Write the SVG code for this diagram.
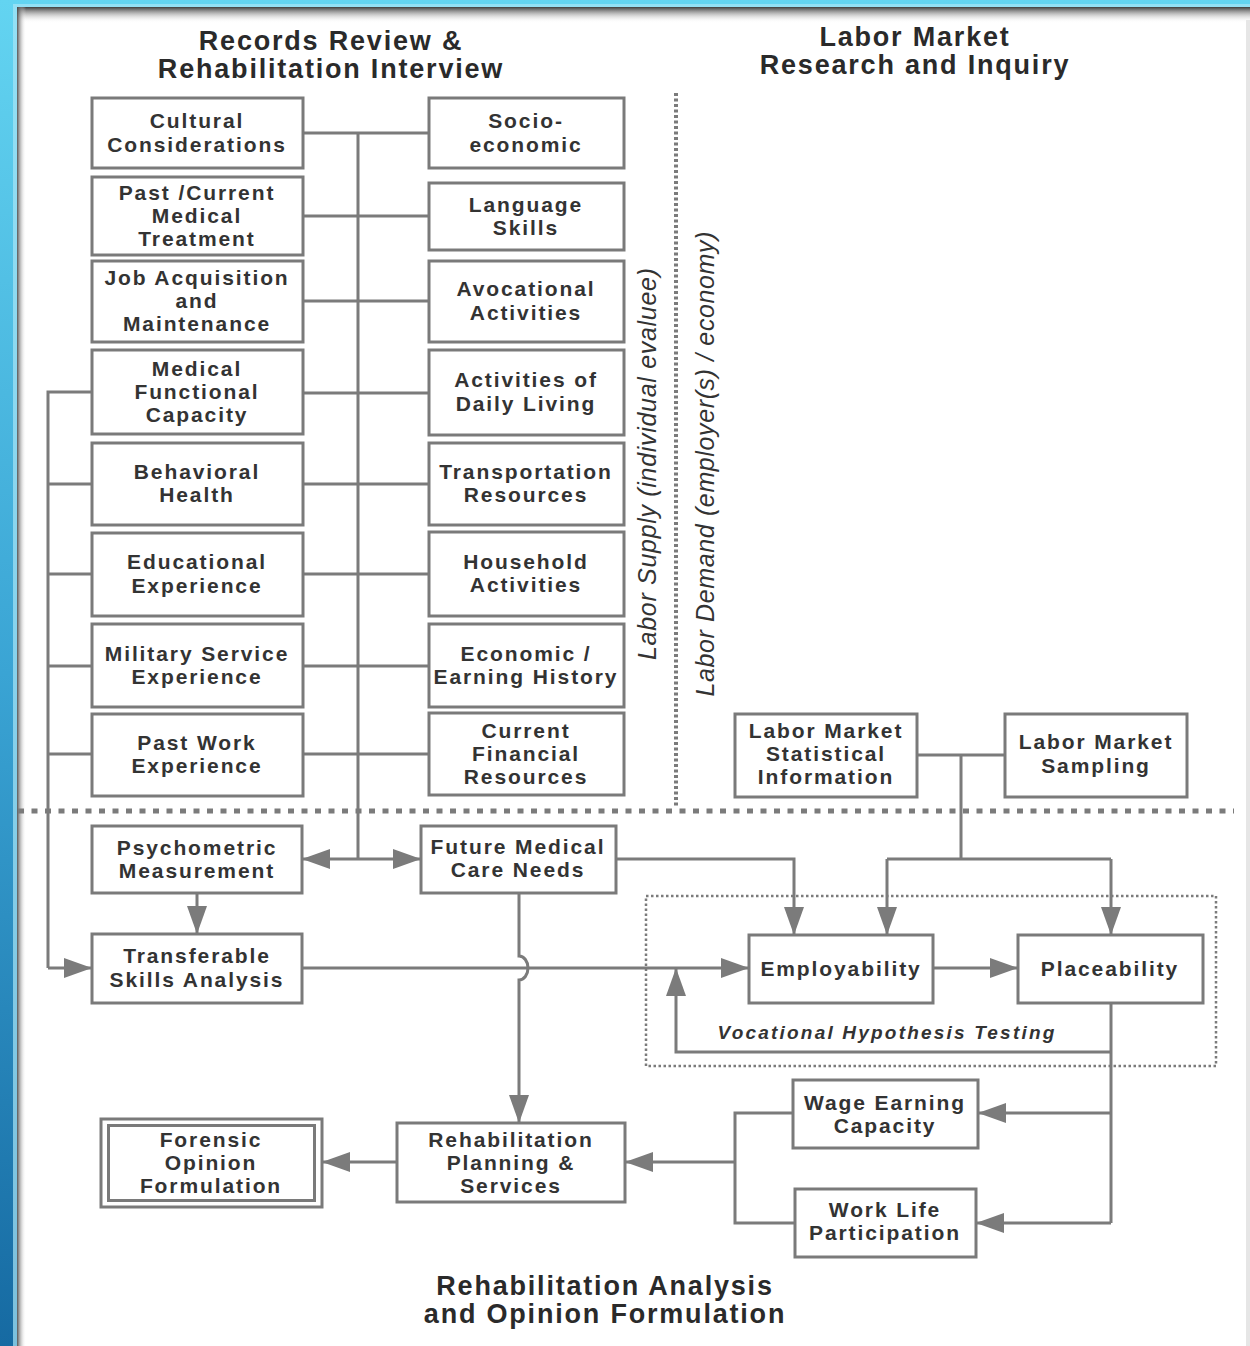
<svg xmlns="http://www.w3.org/2000/svg" width="1250" height="1346" viewBox="0 0 1250 1346">
<defs>
<linearGradient id="bg" x1="0" y1="0" x2="0" y2="1">
<stop offset="0" stop-color="#63d4f1"/>
<stop offset="0.5" stop-color="#3aa4d4"/>
<stop offset="1" stop-color="#166aa2"/>
</linearGradient>
<linearGradient id="shT" x1="0" y1="0" x2="0" y2="1">
<stop offset="0" stop-color="#333" stop-opacity="0.95"/>
<stop offset="1" stop-color="#ffffff" stop-opacity="0"/>
</linearGradient>
<linearGradient id="shL" x1="0" y1="0" x2="1" y2="0">
<stop offset="0" stop-color="#444" stop-opacity="0.9"/>
<stop offset="1" stop-color="#ffffff" stop-opacity="0"/>
</linearGradient>
<marker id="ah" markerUnits="userSpaceOnUse" markerWidth="28" markerHeight="20" refX="28" refY="10" orient="auto">
<path d="M0,0 L28,10 L0,20 Z" fill="#7b7b7b"/>
</marker>
<style>
.box{fill:#fff;stroke:#7a7a7a;stroke-width:3}
.t{font-family:"Liberation Sans",Arial,sans-serif;font-weight:bold;font-size:21px;letter-spacing:1.9px;fill:#333;text-anchor:middle}
.ti{font-family:"Liberation Sans",Arial,sans-serif;font-weight:bold;font-size:27px;letter-spacing:1.8px;fill:#2a2a2a;text-anchor:middle}
.vt{font-family:"Liberation Sans",Arial,sans-serif;font-style:italic;font-size:25px;fill:#333;text-anchor:middle}
.vh{font-family:"Liberation Sans",Arial,sans-serif;font-style:italic;font-weight:bold;font-size:19px;letter-spacing:2.2px;fill:#333;text-anchor:middle}
.ln{fill:none;stroke:#7b7b7b;stroke-width:3}
.ar{marker-end:url(#ah)}
.dot{fill:none;stroke:#7b7b7b}
</style>
</defs>

<!-- frame -->
<rect x="0" y="0" width="1250" height="1346" fill="url(#bg)"/>
<rect x="13" y="4" width="1237" height="1342" fill="#a8e6f7" opacity="0.7"/>
<rect x="17" y="7" width="1233" height="1339" fill="#ffffff"/>
<rect x="17" y="7" width="1233" height="16" fill="url(#shT)"/>
<rect x="17" y="7" width="9" height="1339" fill="url(#shL)"/>
<rect x="1246" y="20" width="4" height="1326" fill="#e6e6e6"/>

<!-- section titles -->
<g id="titles">
<text class="ti" x="331" y="50">Records Review &amp;</text>
<text class="ti" x="331" y="78">Rehabilitation Interview</text>
<text class="ti" x="915" y="46">Labor Market</text>
<text class="ti" x="915" y="74">Research and Inquiry</text>
<text class="ti" x="605" y="1295">Rehabilitation Analysis</text>
<text class="ti" x="605" y="1323">and Opinion Formulation</text>
<text class="vt" transform="translate(656,464) rotate(-90)" textLength="392" lengthAdjust="spacing">Labor Supply (individual evaluee)</text>
<text class="vt" transform="translate(714,464) rotate(-90)" textLength="465" lengthAdjust="spacing">Labor Demand (employer(s) / economy)</text>
</g>

<!-- dividers -->
<g id="dividers">
<path class="dot" d="M18,811 H1234" stroke-width="5" stroke-dasharray="6 7.5"/>
<path class="dot" d="M676,93 V806" stroke-width="4" stroke-dasharray="3 2.5"/>
<rect x="646" y="896" width="570" height="170" class="dot" stroke-width="2.5" stroke-dasharray="2.5 2.5" stroke="#8a8a8a"/>
</g>

<!-- connectors -->
<g id="connectors">
<path class="ln" d="M303,133 H429 M303,216 H429 M303,301 H429 M303,393 H429 M303,484 H429 M303,574 H429 M303,666 H429 M303,754 H429"/>
<path class="ln" d="M358,133 V859"/>
<path class="ln ar" d="M358,859 H302"/>
<path class="ln ar" d="M358,859 H421"/>
<path class="ln" d="M92,392 H48 V968 M48,484 H92 M48,574 H92 M48,666 H92 M48,754 H92"/>
<path class="ln ar" d="M48,968 H92"/>
<path class="ln ar" d="M197,893 V934"/>
<path class="ln ar" d="M302,968 H749"/>
<path class="ln ar" d="M519,893 V956 A9 12 0 0 1 519,980 V1123"/>
<path class="ln ar" d="M616,859 H794 V935"/>
<path class="ln" d="M917,755 H1005 M961,755 V859 H887 M961,859 H1111"/>
<path class="ln ar" d="M887,859 V935"/>
<path class="ln ar" d="M1111,859 V935"/>
<path class="ln ar" d="M933,968 H1018"/>
<path class="ln" d="M1111,1003 V1223"/>
<path class="ln ar" d="M1111,1052 H676 V968"/>
<path class="ln ar" d="M1111,1113 H978"/>
<path class="ln ar" d="M1111,1223 H976"/>
<path class="ln" d="M793,1113 H735 V1223 H795"/>
<path class="ln ar" d="M735,1162 H625"/>
<path class="ln ar" d="M397,1162 H322"/>
</g>

<!-- left column -->
<g id="cultural"><rect class="box" x="92" y="98" width="211" height="70"/><text class="t" x="197" y="128">Cultural</text><text class="t" x="197" y="152">Considerations</text></g>
<g id="medical-treatment"><rect class="box" x="92" y="177" width="211" height="78"/><text class="t" x="197" y="200">Past /Current</text><text class="t" x="197" y="223">Medical</text><text class="t" x="197" y="246">Treatment</text></g>
<g id="job-acquisition"><rect class="box" x="92" y="261" width="211" height="81"/><text class="t" x="197" y="285">Job Acquisition</text><text class="t" x="197" y="308">and</text><text class="t" x="197" y="331">Maintenance</text></g>
<g id="functional-capacity"><rect class="box" x="92" y="350" width="211" height="84"/><text class="t" x="197" y="376">Medical</text><text class="t" x="197" y="399">Functional</text><text class="t" x="197" y="422">Capacity</text></g>
<g id="behavioral"><rect class="box" x="92" y="443" width="211" height="82"/><text class="t" x="197" y="479">Behavioral</text><text class="t" x="197" y="502">Health</text></g>
<g id="educational"><rect class="box" x="92" y="533" width="211" height="83"/><text class="t" x="197" y="569">Educational</text><text class="t" x="197" y="593">Experience</text></g>
<g id="military"><rect class="box" x="92" y="624" width="211" height="83"/><text class="t" x="197" y="661">Military Service</text><text class="t" x="197" y="684">Experience</text></g>
<g id="past-work"><rect class="box" x="92" y="714" width="211" height="82"/><text class="t" x="197" y="750">Past Work</text><text class="t" x="197" y="773">Experience</text></g>

<!-- right column -->
<g id="socio"><rect class="box" x="429" y="98" width="195" height="70"/><text class="t" x="526" y="128">Socio-</text><text class="t" x="526" y="152">economic</text></g>
<g id="language"><rect class="box" x="429" y="183" width="195" height="67"/><text class="t" x="526" y="212">Language</text><text class="t" x="526" y="235">Skills</text></g>
<g id="avocational"><rect class="box" x="429" y="261" width="195" height="81"/><text class="t" x="526" y="296">Avocational</text><text class="t" x="526" y="320">Activities</text></g>
<g id="adl"><rect class="box" x="429" y="350" width="195" height="85"/><text class="t" x="526" y="387">Activities of</text><text class="t" x="526" y="411">Daily Living</text></g>
<g id="transportation"><rect class="box" x="429" y="443" width="195" height="82"/><text class="t" x="526" y="479">Transportation</text><text class="t" x="526" y="502">Resources</text></g>
<g id="household"><rect class="box" x="429" y="532" width="195" height="84"/><text class="t" x="526" y="569">Household</text><text class="t" x="526" y="592">Activities</text></g>
<g id="economic"><rect class="box" x="429" y="624" width="195" height="83"/><text class="t" x="526" y="661">Economic /</text><text class="t" x="526" y="684">Earning History</text></g>
<g id="financial"><rect class="box" x="429" y="713" width="195" height="82"/><text class="t" x="526" y="738">Current</text><text class="t" x="526" y="761">Financial</text><text class="t" x="526" y="784">Resources</text></g>

<!-- labor market -->
<g id="lm-statistical"><rect class="box" x="735" y="714" width="182" height="83"/><text class="t" x="826" y="738">Labor Market</text><text class="t" x="826" y="761">Statistical</text><text class="t" x="826" y="784">Information</text></g>
<g id="lm-sampling"><rect class="box" x="1005" y="714" width="182" height="83"/><text class="t" x="1096" y="749">Labor Market</text><text class="t" x="1096" y="773">Sampling</text></g>

<!-- lower section -->
<g id="psychometric"><rect class="box" x="92" y="826" width="210" height="67"/><text class="t" x="197" y="855">Psychometric</text><text class="t" x="197" y="878">Measurement</text></g>
<g id="future-medical"><rect class="box" x="421" y="826" width="195" height="67"/><text class="t" x="518" y="854">Future Medical</text><text class="t" x="518" y="877">Care Needs</text></g>
<g id="transferable"><rect class="box" x="92" y="934" width="210" height="69"/><text class="t" x="197" y="963">Transferable</text><text class="t" x="197" y="987">Skills Analysis</text></g>
<g id="employability"><rect class="box" x="749" y="935" width="184" height="68"/><text class="t" x="841" y="976">Employability</text></g>
<g id="placeability"><rect class="box" x="1018" y="935" width="185" height="68"/><text class="t" x="1110" y="976">Placeability</text></g>
<g id="vht"><text class="vh" x="887" y="1039">Vocational Hypothesis Testing</text></g>
<g id="wage"><rect class="box" x="793" y="1080" width="185" height="68"/><text class="t" x="885" y="1110">Wage Earning</text><text class="t" x="885" y="1133">Capacity</text></g>
<g id="work-life"><rect class="box" x="795" y="1189" width="181" height="68"/><text class="t" x="885" y="1217">Work Life</text><text class="t" x="885" y="1240">Participation</text></g>
<g id="rehab-planning"><rect class="box" x="397" y="1123" width="228" height="79"/><text class="t" x="511" y="1147">Rehabilitation</text><text class="t" x="511" y="1170">Planning &amp;</text><text class="t" x="511" y="1193">Services</text></g>
<g id="forensic"><rect class="box" x="101" y="1119" width="221" height="88" stroke-width="2.5"/><rect class="box" x="108.5" y="1125.5" width="206" height="75" stroke-width="2.5"/><text class="t" x="211" y="1147">Forensic</text><text class="t" x="211" y="1170">Opinion</text><text class="t" x="211" y="1193">Formulation</text></g>
</svg>
